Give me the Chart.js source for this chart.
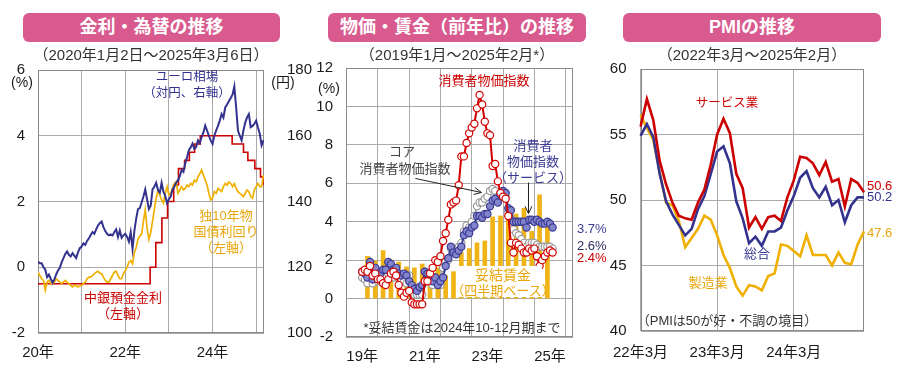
<!DOCTYPE html>
<html lang="ja">
<head>
<meta charset="utf-8">
<title>金利・為替／物価・賃金／PMIの推移</title>
<script src="https://cdn.jsdelivr.net/npm/chart.js@4.4.1/dist/chart.umd.min.js"></script>
<style>
  body { margin: 0; background: #fff; }
  #page {
    position: relative; width: 900px; height: 370px; overflow: hidden;
    font-family: "Liberation Sans", Arial, "Noto Sans CJK JP", sans-serif;
  }
  .head {
    position: absolute; top: 13px; height: 29px; line-height: 29px; border-radius: 6px;
    background: #d85a8e; color: #fff; font-weight: bold; font-size: 18px; text-align: center;
  }
  .note { position: absolute; white-space: nowrap; line-height: 1; transform: translate(-50%, -50%); }
  .note.left { transform: translate(0, -50%); }
  .blank { position: absolute; background: #fff; }
  canvas { position: absolute; top: 46px; }
</style>
</head>
<body>
<div id="page">
  <div class="head" style="left:23px;width:257px">金利・為替の推移</div>
  <div class="head" style="left:328px;width:258px">物価・賃金（前年比）の推移</div>
  <div class="head" style="left:623px;width:258px">PMIの推移</div>
  <canvas id="rates" width="312" height="324" style="left:0"></canvas>
  <canvas id="prices" width="300" height="324" style="left:300px"></canvas>
  <canvas id="pmi" width="300" height="324" style="left:600px"></canvas>
  <!-- white patch behind the wage label, as in the original -->
  <div class="blank" style="left:458px;top:266px;width:84px;height:31px"></div>
</div>
<script>
//---------------------- 金利・為替 data -----------------------------//
const fxStart = 2020; // half-month samples, Jan 2020 .. early Mar 2025
const eurJpy = [
  121.8, 121.2, 121.2, 120.0, 119.3, 117.0, 117.8, 116.5, 115.3, 116.3,
  117.8, 119.0, 119.8, 121.5, 122.8, 124.0, 124.8, 123.8, 123.3, 124.3,
  123.5, 122.8, 124.5, 125.8, 126.3, 127.3, 126.8, 128.0, 128.8, 129.8,
  130.7, 130.2, 131.5, 132.7, 133.4, 133.9, 132.2, 131.0, 130.2, 129.7,
  130.0, 129.7, 130.7, 131.5, 129.2, 131.2, 129.0, 129.7, 130.2, 129.2,
  127.8, 130.7, 125.6, 131.0, 134.7, 137.7, 138.0, 139.7, 141.5, 143.7,
  140.7, 137.7, 138.7, 143.7, 144.5, 145.7, 143.5, 142.7, 145.7, 143.0,
  141.7, 139.5, 140.7, 141.5, 143.7, 144.5, 145.7, 146.5, 147.7, 149.6,
  149.0, 151.6, 153.5, 155.6, 156.5, 157.6, 156.0, 156.6, 158.6, 157.8,
  159.6, 161.0, 163.1, 161.6, 160.0, 158.6, 157.5, 160.0, 161.6, 163.0,
  164.6, 166.6, 165.5, 168.6, 169.5, 170.5, 171.5, 172.5, 175.0, 168.6,
  161.6, 160.0, 158.6, 161.6, 164.0, 165.6, 166.6, 162.6, 163.0, 163.6,
  164.6, 162.5, 160.6, 157.1, 158.6
];
const bund10y = [
  -0.15, -0.25, -0.35, -0.40, -0.70, -0.45, -0.40, -0.50, -0.50, -0.45,
  -0.35, -0.40, -0.45, -0.50, -0.45, -0.40, -0.45, -0.50, -0.55, -0.60,
  -0.55, -0.55, -0.60, -0.57, -0.55, -0.50, -0.45, -0.35, -0.30, -0.30,
  -0.25, -0.20, -0.15, -0.12, -0.18, -0.20, -0.30, -0.40, -0.45, -0.45,
  -0.35, -0.25, -0.15, -0.12, -0.25, -0.35, -0.35, -0.20, -0.10, 0.00,
  0.15, 0.20, 0.10, 0.45, 0.60, 0.85, 0.95, 1.00, 1.40, 1.75,
  1.20, 0.85, 1.05, 1.40, 1.75, 2.10, 2.35, 2.20, 2.05, 1.95,
  2.25, 2.45, 2.20, 2.25, 2.40, 2.55, 2.60, 2.25, 2.35, 2.45,
  2.35, 2.40, 2.50, 2.45, 2.55, 2.50, 2.65, 2.60, 2.75, 2.85,
  2.96, 2.80, 2.65, 2.50, 2.25, 2.05, 2.10, 2.30, 2.25, 2.40,
  2.35, 2.30, 2.45, 2.55, 2.50, 2.60, 2.55, 2.45, 2.55, 2.40,
  2.30, 2.25, 2.20, 2.15, 2.25, 2.35, 2.30, 2.15, 2.10, 2.35,
  2.45, 2.55, 2.45, 2.45, 2.80
];
// ECB deposit facility rate, at each change
const depoDates = [2020.0, 2022.57, 2022.70, 2022.84, 2022.97, 2023.11, 2023.22, 2023.36, 2023.47,
  2023.59, 2023.72, 2024.45, 2024.71, 2024.81, 2024.97, 2025.10, 2025.18];
const depoRates = [-0.5, 0, 0.75, 1.5, 2.0, 2.5, 3.0, 3.25, 3.5, 3.75, 4.0, 3.75, 3.5, 3.25, 3.0, 2.75, 2.5];
const fxTickYears = [2020, 2021, 2022, 2023, 2024, 2025];
const fxTickText = ['20年', '', '22年', '', '24年', ''];

//---------------------- 物価・賃金 data -----------------------------//
// monthly, Jan 2019 .. Feb 2025 (x = months since Jan 2019)
const cpiAll = [
  1.4, 1.5, 1.4, 1.7, 1.2, 1.3, 1.0, 1.0, 0.8, 0.7, 1.0, 1.3,
  1.4, 1.2, 0.7, 0.3, 0.1, 0.3, 0.4, -0.2, -0.3, -0.3, -0.3, -0.3,
  0.9, 0.9, 1.3, 1.6, 2.0, 1.9, 2.2, 3.0, 3.4, 4.1, 4.9, 5.0,
  5.1, 5.9, 7.4, 7.4, 8.1, 8.6, 8.9, 9.1, 9.9, 10.6, 10.1, 9.2,
  8.6, 8.5, 6.9, 7.0, 6.1, 5.5, 5.3, 5.2, 4.3, 2.9, 2.4, 2.9,
  2.8, 2.6, 2.4, 2.4, 2.6, 2.5, 2.6, 2.2, 1.7, 2.0, 2.2, 2.4,
  2.5, 2.4
];
const cpiCore = [
  1.1, 1.0, 0.8, 1.3, 0.8, 1.1, 0.9, 0.9, 1.0, 1.1, 1.3, 1.3,
  1.1, 1.2, 1.0, 0.9, 0.9, 0.8, 1.2, 0.4, 0.2, 0.2, 0.2, 0.2,
  1.4, 1.1, 0.9, 0.7, 1.0, 0.9, 0.7, 1.6, 1.9, 2.0, 2.6, 2.6,
  2.3, 2.7, 2.9, 3.5, 3.8, 3.7, 4.0, 4.3, 4.8, 5.0, 5.0, 5.2,
  5.3, 5.6, 5.7, 5.6, 5.3, 5.5, 5.5, 5.3, 4.5, 4.2, 3.6, 3.4,
  3.3, 3.1, 2.9, 2.7, 2.9, 2.9, 2.9, 2.8, 2.7, 2.7, 2.7, 2.7,
  2.7, 2.6
];
const cpiServices = [
  1.4, 1.3, 1.1, 1.9, 1.0, 1.6, 1.2, 1.3, 1.5, 1.5, 1.9, 1.8,
  1.5, 1.6, 1.3, 1.2, 1.3, 1.2, 0.9, 0.7, 0.5, 0.4, 0.6, 0.7,
  1.4, 1.3, 1.3, 0.9, 1.1, 0.7, 0.9, 1.1, 1.7, 2.1, 2.7, 2.4,
  2.3, 2.5, 2.7, 3.3, 3.5, 3.4, 3.7, 3.8, 4.3, 4.3, 4.2, 4.4,
  4.4, 4.8, 5.1, 5.2, 5.0, 5.4, 5.6, 5.5, 4.7, 4.6, 4.0, 4.0,
  4.0, 4.0, 4.0, 3.7, 4.1, 4.1, 4.0, 4.1, 4.0, 3.9, 3.9, 4.0,
  3.9, 3.7
];
// negotiated wages, 2019Q1 .. 2024Q4 (plotted at the quarter's last month)
const wageGrowth = [
  2.2, 1.95, 2.5, 2.0, 1.9, 1.65, 1.6, 1.8, 1.5, 1.6, 1.2, 1.4,
  2.4, 2.6, 2.9, 3.0, 4.25, 4.3, 4.75, 4.4, 4.7, 3.5, 5.4, 4.1
];
const cpiTickMonths = [0, 12, 24, 36, 48, 60, 72];
const cpiTickText = ['19年', '', '21年', '', '23年', '', '25年'];

//---------------------- PMI data -----------------------------//
const pmiMonths = [
  '22/3', '22/4', '22/5', '22/6', '22/7', '22/8', '22/9', '22/10', '22/11', '22/12',
  '23/1', '23/2', '23/3', '23/4', '23/5', '23/6', '23/7', '23/8', '23/9', '23/10', '23/11', '23/12',
  '24/1', '24/2', '24/3', '24/4', '24/5', '24/6', '24/7', '24/8', '24/9', '24/10', '24/11', '24/12',
  '25/1', '25/2'
];
const pmiServices = [55.6, 57.7, 56.1, 53.0, 51.2, 49.8, 48.8, 48.6, 48.5, 49.8, 50.8, 52.7, 55.0, 56.2, 55.1, 52.0, 50.9, 47.9,
  48.7, 47.8, 48.7, 48.8, 48.4, 50.2, 51.5, 53.3, 53.2, 52.8, 51.9, 52.9, 51.4, 51.6, 49.5, 51.6, 51.3, 50.6];
const pmiComposite = [54.9, 55.8, 54.8, 52.0, 49.9, 48.9, 48.1, 47.3, 47.8, 49.3, 50.3, 52.0, 53.7, 54.1, 52.8, 49.9, 48.6, 46.7,
  47.2, 46.5, 47.6, 47.6, 47.9, 49.2, 50.3, 51.7, 52.2, 50.9, 50.2, 51.0, 49.6, 50.0, 48.3, 49.6, 50.2, 50.2];
const pmiManufacturing = [56.5, 55.5, 54.6, 52.1, 49.8, 49.6, 48.4, 46.4, 47.1, 47.8, 48.8, 48.5, 47.3, 45.8, 44.8, 43.4, 42.7, 43.5,
  43.4, 43.1, 44.2, 44.4, 46.6, 46.5, 46.1, 45.7, 47.3, 45.8, 45.8, 45.8, 45.0, 46.0, 45.2, 45.1, 46.6, 47.6];
const pmiTickAt = ['22/3', '23/3', '24/3'];
const pmiTickText = ['22年3月', '23年3月', '24年3月'];

//---------------------- common -----------------------------//
const RED = '#cc0000';
const NAVY = '#33338f';
const GOLD = '#efb000';
const GRID = '#a9a9a9';

Chart.defaults.font.family = '"Liberation Sans", Arial, "Noto Sans CJK JP", sans-serif';
Chart.defaults.font.size = 15;
Chart.defaults.color = '#1a1a1a';
Chart.defaults.animation = false;
Chart.defaults.plugins.legend.display = false;
Chart.defaults.plugins.tooltip.enabled = false;

// force axis thickness so the three plot areas line up with the original
const fixSize = (size) => (scale) => {
  if (scale.isHorizontal()) scale.height = size;
  else scale.width = size;
};

const framePlugin = {
  id: 'frame',
  beforeDatasetsDraw(chart) {
    const { ctx, chartArea: a } = chart;
    ctx.save();
    ctx.strokeStyle = '#8a8a8a';
    ctx.lineWidth = 1;
    ctx.strokeRect(Math.round(a.left) + 0.5, Math.round(a.top) + 0.5,
      Math.round(a.width) - 1, Math.round(a.height) - 1);
    ctx.restore();
  }
};

const gridOpts = { color: GRID, drawTicks: false };

//---------------------- 金利・為替 chart -----------------------------//
new Chart(document.getElementById('rates'), {
  type: 'line',
  data: {
    datasets: [
      {
        label: 'ユーロ相場',
        data: eurJpy.map((v, i) => ({ x: fxStart + i / 24, y: v })),
        yAxisID: 'y2', borderColor: NAVY, borderWidth: 2, pointRadius: 0, order: 1,
      },
      {
        label: '独10年物国債利回り',
        data: bund10y.map((v, i) => ({ x: fxStart + i / 24, y: v })),
        yAxisID: 'y', borderColor: GOLD, borderWidth: 1.7, pointRadius: 0, order: 2,
      },
      {
        label: '中銀預金金利',
        data: depoDates.map((d, i) => ({ x: d, y: depoRates[i] })),
        yAxisID: 'y', borderColor: RED, borderWidth: 1.6, pointRadius: 0, stepped: true, order: 3,
      },
    ],
  },
  options: {
    responsive: false,
    devicePixelRatio: 1,
    layout: { padding: { top: 19 } },
    scales: {
      x: {
        type: 'linear', min: 2020, max: 2025.18,
        afterBuildTicks: (s) => { s.ticks = fxTickYears.map((v) => ({ value: v })); },
        afterFit: fixSize(37),
        grid: gridOpts, border: { display: false },
        ticks: { padding: 11, maxRotation: 0, autoSkip: false, callback: (v, i) => fxTickText[i] },
      },
      y: {
        position: 'left', min: -2, max: 6, afterFit: fixSize(38),
        grid: gridOpts, border: { display: false },
        ticks: { stepSize: 2, padding: 13 },
      },
      // wide enough that "180" is not clipped by the axis box
      y2: {
        position: 'right', min: 100, max: 180, afterFit: fixSize(48),
        grid: { display: false }, border: { display: false },
        ticks: { stepSize: 20, padding: 15 },
      },
    },
  },
  plugins: [framePlugin],
});

//---------------------- 物価・賃金 chart -----------------------------//
const arrowPlugin = {
  id: 'arrows',
  afterDatasetsDraw(chart) {
    const { ctx, scales: { x, y } } = chart;
    const arrow = (m1, v1, m2, v2) => {
      const x1 = x.getPixelForValue(m1), y1 = y.getPixelForValue(v1);
      const x2 = x.getPixelForValue(m2), y2 = y.getPixelForValue(v2);
      const ang = Math.atan2(y2 - y1, x2 - x1);
      ctx.beginPath();
      ctx.moveTo(x1, y1);
      ctx.lineTo(x2, y2);
      ctx.moveTo(x2 - 8 * Math.cos(ang - 0.45), y2 - 8 * Math.sin(ang - 0.45));
      ctx.lineTo(x2, y2);
      ctx.lineTo(x2 - 8 * Math.cos(ang + 0.45), y2 - 8 * Math.sin(ang + 0.45));
      ctx.stroke();
    };
    ctx.save();
    ctx.strokeStyle = '#222';
    ctx.lineWidth = 1;
    arrow(20.4, 6.25, 45.7, 5.52); // コア消費者物価指数
    arrow(63.75, 6.04, 63.75, 4.43); // サービス
    ctx.restore();
  }
};

new Chart(document.getElementById('prices'), {
  type: 'line',
  data: {
    datasets: [
      {
        type: 'bar', label: '妥結賃金',
        data: wageGrowth.map((v, i) => ({ x: 2 + 3 * i, y: v })),
        backgroundColor: '#f1b416', barThickness: 4, order: 4,
      },
      {
        label: 'コア消費者物価指数',
        data: cpiCore.map((v, i) => ({ x: i, y: v })),
        borderColor: '#a8a8a8', pointBackgroundColor: '#fff', pointBorderColor: '#9a9a9a', order: 3,
      },
      {
        label: '消費者物価指数（サービス）',
        data: cpiServices.map((v, i) => ({ x: i, y: v })),
        borderColor: '#3b3b94', pointBackgroundColor: '#8385cc', pointBorderColor: '#3b3b94', order: 2,
      },
      {
        label: '消費者物価指数',
        data: cpiAll.map((v, i) => ({ x: i, y: v })),
        borderColor: '#d40000', pointBackgroundColor: '#fff', pointBorderColor: '#d40000', order: 1,
      },
    ],
  },
  options: {
    responsive: false,
    devicePixelRatio: 1,
    layout: { padding: { top: 21, right: 27 } },
    elements: {
      point: { radius: 3.6, borderWidth: 1.2 },
      line: { borderWidth: 2, tension: 0 },
    },
    datasets: { line: { clip: false } },
    scales: {
      x: {
        type: 'linear', min: 0, max: 74.6,
        afterBuildTicks: (s) => { s.ticks = cpiTickMonths.map((v) => ({ value: v })); },
        afterFit: fixSize(33),
        grid: gridOpts, border: { display: false },
        ticks: { padding: 11, maxRotation: 0, autoSkip: false, callback: (v, i) => cpiTickText[i] },
      },
      y: {
        min: -2, max: 12, afterFit: fixSize(46),
        grid: gridOpts, border: { display: false },
        ticks: { stepSize: 2, padding: 13 },
      },
    },
  },
  plugins: [framePlugin, arrowPlugin],
});

//---------------------- PMI chart -----------------------------//
new Chart(document.getElementById('pmi'), {
  type: 'line',
  data: {
    labels: pmiMonths,
    datasets: [
      { label: 'サービス業', data: pmiServices, borderColor: RED, order: 1 },
      { label: '総合', data: pmiComposite, borderColor: NAVY, order: 2 },
      { label: '製造業', data: pmiManufacturing, borderColor: GOLD, order: 3 },
    ],
  },
  options: {
    responsive: false,
    devicePixelRatio: 1,
    layout: { padding: { top: 17, right: 36 } },
    elements: {
      point: { radius: 0 },
      line: { borderWidth: 2.6, tension: 0 },
    },
    scales: {
      x: {
        afterFit: fixSize(39),
        grid: {
          drawTicks: false,
          color: (c) => (pmiTickAt.includes(pmiMonths[c.index]) ? GRID : 'rgba(0,0,0,0)'),
        },
        border: { display: false },
        ticks: {
          padding: 13, maxRotation: 0, autoSkip: false,
          callback: (v, i) => {
            const k = pmiTickAt.indexOf(pmiMonths[i]);
            return k < 0 ? '' : pmiTickText[k];
          },
        },
      },
      y: {
        min: 40, max: 60, afterFit: fixSize(37),
        grid: gridOpts, border: { display: false },
        ticks: { stepSize: 5, padding: 14 },
      },
    },
  },
  plugins: [framePlugin],
});

//---------------------- text notes -----------------------------//
const page = document.getElementById('page');
function note(text, x, y, color, size, anchor) {
  const el = document.createElement('div');
  el.className = 'note' + (anchor === 'left' ? ' left' : '');
  el.textContent = text;
  el.style.left = x + 'px';
  el.style.top = y + 'px';
  el.style.color = color;
  el.style.fontSize = size + 'px';
  page.appendChild(el);
}

const DARK = '#333';
const TXT_GOLD = '#e8a60c';

// subtitles
note('（2020年1月2日～2025年3月6日）', 151, 54, DARK, 15);
note('（2019年1月～2025年2月*）', 457, 54, DARK, 15);
note('（2022年3月～2025年2月）', 752, 54, DARK, 15);

// 金利・為替
note('(%)', 22, 82, '#1a1a1a', 14);
note('(円)', 283, 82, '#1a1a1a', 14);
note('ユーロ相場', 187, 77, NAVY, 12.5);
note('（対円、右軸）', 187, 93, NAVY, 12.5);
note('中銀預金金利', 123, 297, RED, 13);
note('（左軸）', 123, 313, RED, 13);
note('独10年物', 226, 215, TXT_GOLD, 13);
note('国債利回り', 226, 231, TXT_GOLD, 13);
note('（左軸）', 226, 247, TXT_GOLD, 13);

// 物価・賃金
note('(%)', 329, 88, '#1a1a1a', 14);
note('消費者物価指数', 484, 80, RED, 13);
note('コア', 402, 151, '#444', 13);
note('消費者物価指数', 405, 168, '#444', 13);
note('消費者', 533, 145, '#3b3b94', 13);
note('物価指数', 533, 161, '#3b3b94', 13);
note('（サービス）', 533, 177, '#3b3b94', 13);
note('3.7%', 577, 228, '#3b3b94', 13, 'left');
note('2.6%', 577, 245, '#2e2e5e', 13, 'left');
note('2.4%', 577, 257, RED, 13, 'left');
note('妥結賃金', 503, 275, TXT_GOLD, 14);
note('（四半期ベース）', 503, 290, TXT_GOLD, 13);
note('*妥結賃金は2024年10-12月期まで', 462, 327, DARK, 13);

// PMI
note('サービス業', 727, 103, RED, 12.5);
note('総合', 757, 253, NAVY, 13);
note('製造業', 708, 282, TXT_GOLD, 13);
note('（PMIは50が好・不調の境目）', 727, 320, DARK, 13);
note('50.6', 867, 185, RED, 13, 'left');
note('50.2', 867, 196, NAVY, 13, 'left');
note('47.6', 867, 232, TXT_GOLD, 13, 'left');
</script>
</body>
</html>
